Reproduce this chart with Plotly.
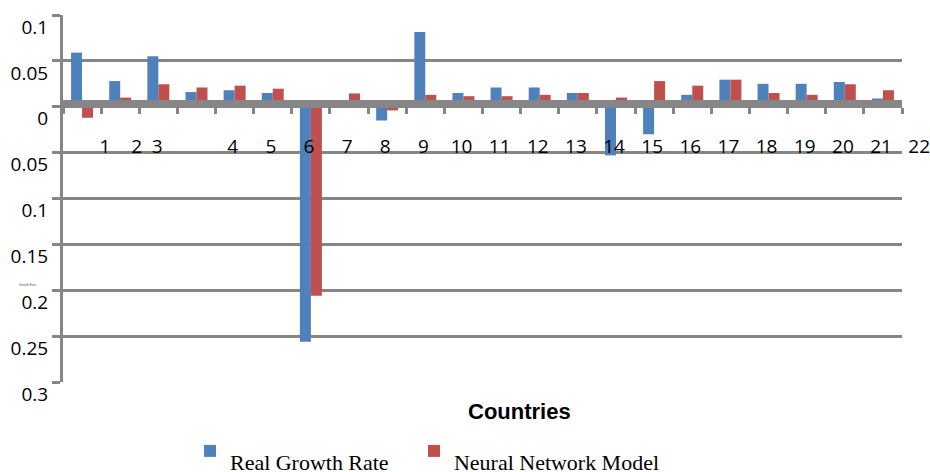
import plotly.graph_objects as go

# ---------------- data ----------------
country_labels = [str(i) for i in range(1, 23)]
slots = list(range(1, 23))
real_growth = [0.059, 0.028, 0.055, 0.016, 0.018, 0.015, -0.256, 0.0, -0.015, 0.0815, 0.015,
               0.021, 0.021, 0.015, -0.053, -0.030, 0.013, 0.0295, 0.025, 0.025, 0.027, 0.009]
nn_model = [-0.012, 0.010, 0.0245, 0.021, 0.023, 0.0197, -0.206, 0.0145, -0.004, 0.013, 0.0115,
            0.0115, 0.013, 0.015, 0.010, 0.028, 0.023, 0.0295, 0.015, 0.013, 0.0245, 0.018]
y_tick_vals = [0.1, 0.05, 0, -0.05, -0.1, -0.15, -0.2, -0.25, -0.3]
y_tick_text = ["0.1", "0.05", "0", "0.05", "0.1", "0.15", "0.2", "0.25", "0.3"]

# ---------------- layout geometry (screen pixels) ----------------
W, H = 930, 472
L, T, R = 63, 15, 0
B = H - 382
pw = W - L - R
ph = H - T - B
plot_right = 902
slot_px = (plot_right - L) / 22.0
x_dom_end = (plot_right - L) / pw
label_offsets = [1.60, 2.43, 2.97] + [k + 0.95 for k in range(4, 23)]
boundaries = [i + 0.5 for i in range(0, 23)]

GREY = "#868686"
BLUE = "#4F81BD"
RED = "#C0504D"

def yfrac(py):
    return (T + ph - py) / ph

def xfrac(px):
    return (px - L) / pw

fig = go.Figure()
fig.add_trace(go.Bar(x=slots, y=real_growth, name="<sub>Real Growth Rate</sub>",
                     marker=dict(color=BLUE, line=dict(width=0)), legend="legend"))
fig.add_trace(go.Bar(x=slots, y=nn_model, name="<sub>Neural Network Model</sub>",
                     marker=dict(color=RED, line=dict(width=0)), legend="legend2"))
# carrier for the label axis
fig.add_trace(go.Scatter(x=[], y=[], xaxis="x2", yaxis="y3", showlegend=False,
                         hoverinfo="skip"))

legend_common = dict(orientation="h", xanchor="left", yanchor="middle",
                     xref="container", yref="container",
                     font=dict(family="Liberation Serif", size=31.4, color="black"),
                     bgcolor="rgba(0,0,0,0)", borderwidth=0)

fig.update_layout(
    width=W, height=H,
    margin=dict(l=L, r=R, t=T, b=B, pad=0, autoexpand=False),
    paper_bgcolor="white", plot_bgcolor="rgba(0,0,0,0)",
    barmode="group", bargap=1 - 22 / slot_px, bargroupgap=0,
    font=dict(family="Open Sans", size=19, color="black"),
    xaxis=dict(domain=[0, x_dom_end], range=[0.5, 22.5], anchor="free",
               position=yfrac(103.5), automargin=False,
               showline=True, linewidth=8, linecolor=GREY,
               ticks="outside", ticklen=6, tickwidth=3, tickcolor=GREY,
               tickmode="array", tickvals=boundaries, showticklabels=False,
               showgrid=False, zeroline=False, fixedrange=True),
    xaxis2=dict(domain=[0, 1], range=[0.5, 0.5 + pw / slot_px], anchor="free",
                position=yfrac(132.5), automargin=False,
                showline=False, ticks="", tickmode="array",
                tickvals=label_offsets, ticktext=country_labels,
                ticklabeloverflow="allow",
                tickfont=dict(family="Open Sans", size=19, color="black"),
                showgrid=False, zeroline=False, fixedrange=True),
    yaxis=dict(domain=[0, 1], range=[-0.3, 0.1], anchor="x", automargin=False,
               showline=True, linewidth=3, linecolor=GREY,
               ticks="outside", ticklen=8, tickwidth=2.5, tickcolor=GREY,
               tickmode="array", tickvals=y_tick_vals, ticktext=y_tick_text,
               tickfont=dict(family="Open Sans", size=19, color="black"),
               ticklabelshift=12, ticklabeloverflow="allow",
               showgrid=True, gridcolor=GREY, gridwidth=2.5,
               zeroline=False, fixedrange=True),
    yaxis3=dict(domain=[0, 1], range=[0, 1], anchor="x2", visible=False,
                automargin=False, fixedrange=True),
    showlegend=True,
    legend=dict(legend_common, x=190 / W, y=1 - 451 / H),
    legend2=dict(legend_common, x=414 / W, y=1 - 451 / H),
    annotations=[
        dict(text="<b>Countries</b>", xref="paper", yref="paper",
             x=xfrac(519), y=yfrac(411), xanchor="center", yanchor="middle",
             showarrow=False, font=dict(family="Liberation Sans", size=22, color="black")),
        dict(text="Growth Rate", xref="paper", yref="paper",
             x=xfrac(17), y=yfrac(285), xanchor="left", yanchor="middle",
             showarrow=False, font=dict(family="Liberation Sans", size=3, color="#555555")),
    ],
)

fig.write_html(
    "out.html",
    config={"displayModeBar": False},
    post_script="document.documentElement.style.overflow='hidden';"
                "document.body.style.margin='0';document.body.style.overflow='hidden';",
)
